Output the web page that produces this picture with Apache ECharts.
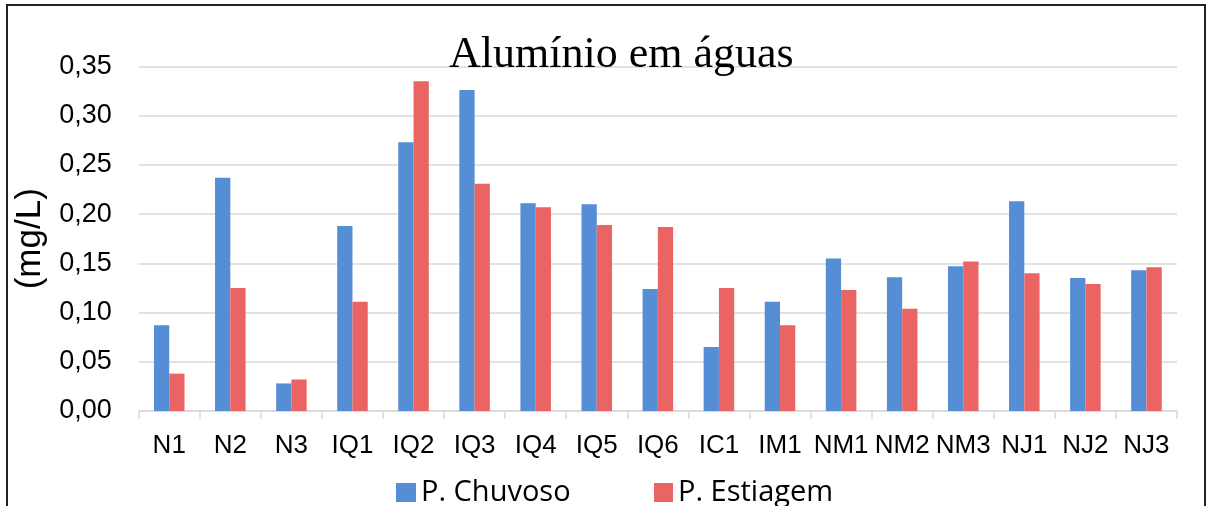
<!DOCTYPE html>
<html>
<head>
<meta charset="utf-8">
<script src="https://cdn.jsdelivr.net/npm/echarts@6/dist/echarts.min.js"></script>
<style>
html,body{margin:0;padding:0;background:#fff;}
#chart{width:1207px;height:506px;}
</style>
</head>
<body>
<div id="chart"></div>
<script>
var categories = ['N1','N2','N3','IQ1','IQ2','IQ3','IQ4','IQ5','IQ6','IC1','IM1','NM1','NM2','NM3','NJ1','NJ2','NJ3'];
var chuvoso = [0.087,0.237,0.028,0.188,0.273,0.326,0.211,0.210,0.124,0.065,0.111,0.155,0.136,0.147,0.213,0.135,0.143];
var estiagem = [0.038,0.125,0.032,0.111,0.335,0.231,0.207,0.189,0.187,0.125,0.087,0.123,0.104,0.152,0.140,0.129,0.146];
var seriesNames = ['P. Chuvoso','P. Estiagem'];
var titleText = 'Alumínio em águas';
var yAxisName = '(mg/L)';

var chart = echarts.init(document.getElementById('chart'), null, {renderer:'canvas'});
var option = {
  animation: false,
  backgroundColor: '#fff',
  title: {
    text: titleText,
    left: 444, top: 28,
    textStyle: {fontFamily: 'Liberation Serif', fontSize: 44, fontWeight: 'normal', color: '#000'}
  },
  graphic: [{
    type: 'rect', shape: {x: 7, y: 5, width: 1198, height: 520},
    style: {fill: 'none', stroke: '#222', lineWidth: 2}, silent: true
  }],
  legend: [{
    data: [seriesNames[0]], left: 391, top: 473,
    itemWidth: 20, itemHeight: 19, itemGap: 10,
    textStyle: {fontFamily: 'Open Sans', fontSize: 29, color: '#000'},
    icon: 'rect'
  },{
    data: [seriesNames[1]], left: 649, top: 473,
    itemWidth: 19, itemHeight: 19,
    textStyle: {fontFamily: 'Open Sans', fontSize: 29, color: '#000'},
    icon: 'rect'
  }],
  grid: {left: 138.7, right: 30, top: 66.5, bottom: 95, containLabel: false},
  xAxis: {
    type: 'category', data: categories,
    axisLine: {lineStyle: {color: '#d9d9d9', width: 1.5}},
    axisTick: {show: true, length: 8, lineStyle: {color: '#d9d9d9', width: 1.5}},
    axisLabel: {fontFamily: 'Liberation Sans', fontSize: 26, color: '#000', margin: 22, interval: 0}
  },
  yAxis: {
    type: 'value', min: 0, max: 0.35, interval: 0.05,
    name: yAxisName, nameLocation: 'middle', nameGap: 84, nameRotate: 90,
    nameTextStyle: {fontFamily: 'Liberation Sans', fontSize: 35, color: '#000'},
    axisLine: {show: false}, axisTick: {show: false},
    splitLine: {lineStyle: {color: '#d9d9d9', width: 1.5}},
    axisLabel: {fontFamily: 'Liberation Sans', fontSize: 27, color: '#000', margin: 27,
      formatter: function(v){ return v.toFixed(2).replace('.', ','); }}
  },
  series: [{
    name: seriesNames[0], type: 'bar', data: chuvoso, barWidth: '25%', barGap: '0%',
    itemStyle: {color: '#558ED5'}
  },{
    name: seriesNames[1], type: 'bar', data: estiagem, barWidth: '25%', barGap: '0%',
    itemStyle: {color: '#EA6464'}
  }]
};
chart.setOption(option);
</script>
</body>
</html>
